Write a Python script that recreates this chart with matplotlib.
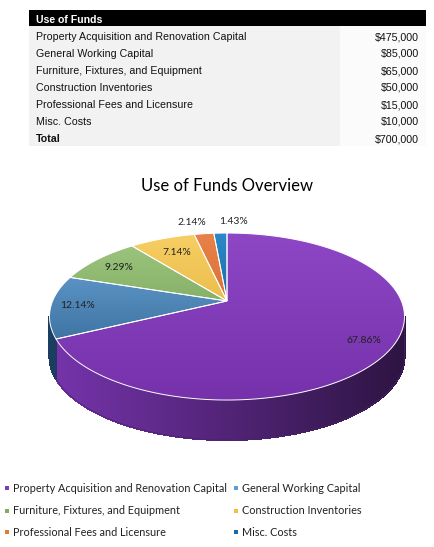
import numpy as np
import matplotlib
matplotlib.use("Agg")
import matplotlib.pyplot as plt
from matplotlib.patches import Polygon, Rectangle
from matplotlib.collections import PolyCollection
from matplotlib.colors import to_rgb

categories = ["Property Acquisition and Renovation Capital", "General Working Capital",
              "Furniture, Fixtures, and Equipment", "Construction Inventories",
              "Professional Fees and Licensure", "Misc. Costs"]
amounts = [475000, 85000, 65000, 50000, 15000, 10000]

top_light = ["#8e48c6", "#6eaade", "#a2c983", "#f7d064", "#e8834a", "#2a8ccc"]
top_dark = ["#7530aa", "#245580", "#5f8f40", "#dca22e", "#c8581e", "#163a68"]
side_base = ["#7634ac", "#1a3e60", "#4f7a34", "#c08e22", "#a84a18", "#143258"]
legend_colors = ["#7e3cb8", "#5b9bd5", "#7fae5a", "#f2c03e", "#e07b3c", "#1a6aa8"]

W, H = 434, 547
fig = plt.figure(figsize=(W / 100, H / 100), dpi=100)
ax = fig.add_axes([0, 0, 1, 1])
ax.set_xlim(0, W)
ax.set_ylim(H, 0)
ax.axis("off")

# ---- table ----
tfont = "Liberation Sans"
ax.add_patch(Rectangle((29, 9.5), 397, 16.5, color="black", lw=0))
ax.add_patch(Rectangle((29, 26), 311, 120, color="#f2f2f2", lw=0))
ax.add_patch(Rectangle((340, 26), 86, 120, color="#fbfbfb", lw=0))
ax.text(36, 20, "Use of Funds", color="white", fontsize=7.6, fontweight="bold",
        family=tfont, va="center")
rows = categories + ["Total"]
vals = amounts + [sum(amounts)]
for i, (name, v) in enumerate(zip(rows, vals)):
    y = 37 + i * 17
    bold = "bold" if name == "Total" else "normal"
    ax.text(36, y, name, fontsize=7.7, family=tfont, va="center", fontweight=bold, color="#111111")
    ax.text(419, y, "${:,}".format(v), fontsize=7.7, family=tfont, va="center", ha="right", color="#111111")

# ---- title ----
ax.text(227, 186, "Use of Funds Overview", fontsize=12, family="Lato", ha="center", va="center")

# ---- 3d pie ----
cx, cy, sx, sy, k, depth = 227, 301, 174.4, 80.6, 0.186, 40


def proj(theta_deg, r=1.0):
    t = np.radians(theta_deg)
    u, v = r * np.cos(t), r * np.sin(t)
    d = 1 + k * v
    return cx + sx * u / d, cy - sy * v / d


frac = np.array(amounts) / sum(amounts)
edges = 90 - 360 * np.concatenate([[0], np.cumsum(frac)])

# side walls (front part only)
lim = np.degrees(np.arcsin(k))
vis_lo, vis_hi = -180 + lim, -lim
for i in range(len(amounts)):
    a0, a1 = min(edges[i], vis_hi), max(edges[i + 1], vis_lo)
    if a0 <= a1:
        continue
    ts = np.linspace(a0, a1, max(int(a0 - a1) * 2, 2))
    quads, cols = [], []
    base = np.array(to_rgb(side_base[i]))
    for t0, t1 in zip(ts[:-1], ts[1:]):
        x0, y0 = proj(t0)
        x1, y1 = proj(t1)
        quads.append([(x0, y0), (x1, y1), (x1, y1 + depth), (x0, y0 + depth)])
        f = 1.0 - 0.62 * np.clip((x0 - 49) / 355, 0, 1)
        cols.append(np.clip(base * f, 0, 1))
    ax.add_collection(PolyCollection(quads, facecolors=cols, edgecolors=cols,
                                     linewidths=0.8, antialiased=False))
    # smooth outline of the wall
    top = [proj(t) for t in ts]
    outline = top + [(x, y + depth) for x, y in top[::-1]]
    ax.add_patch(Polygon(outline, closed=True, fill=False, edgecolor=cols[len(cols) // 2],
                         lw=0.5, zorder=1.5))

# top faces with vertical gradient
for i in range(len(amounts)):
    ts = np.linspace(edges[i], edges[i + 1], max(int(abs(edges[i] - edges[i + 1])) * 2, 4))
    pts = [(cx, cy)] + [proj(t) for t in ts]
    poly = Polygon(pts, closed=True, transform=ax.transData)
    c1, c2 = np.array(to_rgb(top_light[i])), np.array(to_rgb(top_dark[i]))
    g = np.linspace(0, 1, 200)[:, None, None]
    img = c1 * (1 - g) + c2 * g
    im = ax.imshow(img, extent=[40, 420, 405, 228], aspect="auto", interpolation="bilinear", zorder=2)
    im.set_clip_path(poly)
    ax.add_patch(Polygon(pts, closed=True, fill=False, edgecolor="white", lw=0.7, zorder=3))

ax.set_xlim(0, W)
ax.set_ylim(H, 0)

# data labels
label_r = [0.85, 0.85, 0.8, 0.75, 1.2, 1.2]
label_dx = [0, 0, -2, 0, -8, 14]
for i in range(len(amounts)):
    mid = (edges[i] + edges[i + 1]) / 2
    x, y = proj(mid, label_r[i])
    ax.text(x + label_dx[i], y, "{:.2f}%".format(frac[i] * 100), fontsize=7.5, family="Lato",
            ha="center", va="center", color="#222222", zorder=5)

# ---- legend ----
col_x = [7, 236]
row_y = [488, 511, 532]
for i, name in enumerate(categories):
    x, y = col_x[i % 2], row_y[i // 2]
    ax.scatter([x], [y], marker="s", s=6, color=legend_colors[i], lw=0)
    ax.text(x + 6, y, name, fontsize=7.8, family="Lato", va="center", color="#222222")

fig.savefig("out.png", dpi=100)
